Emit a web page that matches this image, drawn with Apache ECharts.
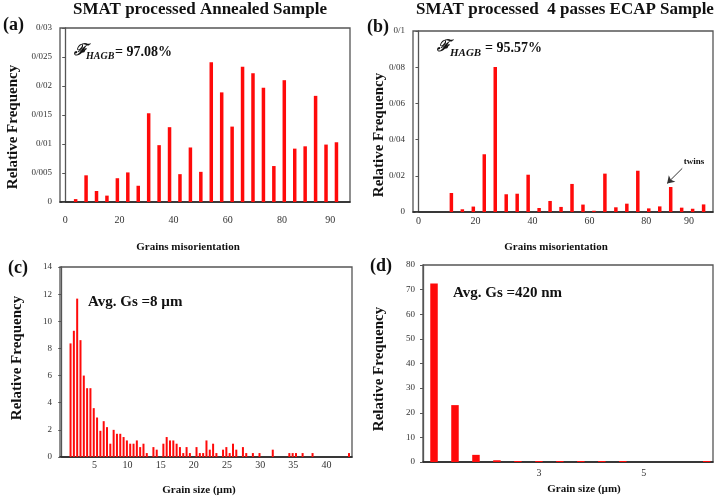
<!DOCTYPE html>
<html><head><meta charset="utf-8">
<script src="https://cdn.jsdelivr.net/npm/echarts@6/dist/echarts.min.js"></script>
<style>html,body{margin:0;padding:0;background:#fff}#c{width:722px;height:498px}</style>
</head><body><div id="c"></div>
<script>
// ---- data ----
const titles = ['SMAT processed Annealed Sample', 'SMAT processed  4 passes ECAP Sample'];
const panelTags = ['(a)', '(b)', '(c)', '(d)'];
const hagb = ['= 97.08%', '= 95.57%'];
const avgGs = ['Avg. Gs =8 \u00b5m', 'Avg. Gs =420 nm'];
const xTitles = ['Grains misorientation', 'Grains misorientation', 'Grain size (\u00b5m)', 'Grain size (\u00b5m)'];
const yTitle = 'Relative Frequency';

// (a) misorientation bins (deg) and relative frequency
const misoA = [3.85, 7.7, 11.55, 15.4, 19.25, 23.1, 26.95, 30.8, 34.65, 38.5, 42.35, 46.2, 50.05,
  53.9, 57.75, 61.6, 65.45, 69.3, 73.15, 77, 80.85, 84.7, 88.55, 92.4, 96.25, 100.1];
const freqA = [0.0005, 0.0046, 0.0019, 0.0011, 0.0041, 0.0051, 0.0028, 0.0153, 0.0098, 0.0129, 0.0048, 0.0094, 0.0052,
  0.0241, 0.0189, 0.0130, 0.0233, 0.0222, 0.0197, 0.0062, 0.0210, 0.0092, 0.0096, 0.0183, 0.0099, 0.0103];

// (b)
const misoB = [11.55, 15.4, 19.25, 23.1, 26.95, 30.8, 34.65, 38.5, 42.35, 46.2, 50.05,
  53.9, 57.75, 61.6, 65.45, 69.3, 73.15, 77, 80.85, 84.7, 88.55, 92.4, 96.25, 100.1];
const freqB = [0.0105, 0.0015, 0.0030, 0.0319, 0.0801, 0.0098, 0.0101, 0.0206, 0.0022, 0.0061, 0.0028,
  0.0155, 0.0041, 0.0007, 0.0212, 0.0026, 0.0046, 0.0228, 0.0020, 0.0031, 0.0138, 0.0024, 0.0018, 0.0042];
const twinsFrom = [92.6, 0.0241];
const twinsTo = [87.3, 0.0158];

// (c) grain size (um) and relative frequency
const sizeC = [1.4, 1.9, 2.4, 2.9, 3.4, 3.9, 4.4, 4.9, 5.4, 5.9, 6.4, 6.9, 7.4, 7.9, 8.4, 8.9, 9.4, 9.9,
  10.4, 10.9, 11.4, 11.9, 12.4, 12.9, 13.9, 14.4, 15.4, 15.9, 16.4, 16.9, 17.4, 17.9, 18.4, 18.9, 19.4,
  20.4, 20.9, 21.4, 21.9, 22.4, 22.9, 23.4, 24.4, 24.9, 25.4, 25.9, 26.4, 27.4, 27.9, 28.9, 29.9,
  31.9, 34.4, 34.9, 35.4, 36.4, 37.9, 43.4];
const freqC = [8.37, 9.3, 11.67, 8.61, 6.0, 5.07, 5.07, 3.6, 2.91, 1.93, 2.64, 2.2, 0.98, 2.0, 1.71, 1.71, 1.47, 1.22,
  0.98, 0.98, 1.22, 0.73, 0.98, 0.29, 0.73, 0.54, 0.98, 1.47, 1.22, 1.22, 0.98, 0.73, 0.29, 0.73, 0.29,
  0.73, 0.29, 0.29, 1.22, 0.54, 0.98, 0.29, 0.54, 0.73, 0.29, 0.98, 0.54, 0.73, 0.29, 0.29, 0.29,
  0.54, 0.29, 0.29, 0.29, 0.29, 0.29, 0.29];

// (d)
const sizeD = [1.0, 1.4, 1.8, 2.2, 2.6, 3.0, 3.4, 3.8, 4.2, 4.6, 6.2];
const freqD = [72.5, 23.1, 2.9, 0.7, 0.4, 0.4, 0.4, 0.4, 0.4, 0.4, 0.4];

// tick labels
const yTickA = ['0', '0/005', '0/01', '0/015', '0/02', '0/025', '0/03'];
const yTickB = ['0', '0/02', '0/04', '0/06', '0/08', '0/1'];
const misoTickA = [0, 20, 40, 60, 80, 97.8];
const misoTickB = [0, 20, 40, 60, 80, 95];
const misoTickText = ['0', '20', '40', '60', '80', '90'];
const sizeTickC = [5, 10, 15, 20, 25, 30, 35, 40];
const sizeTickD = [3, 5];

// ---- chart ----
const SERIF = '"Liberation Serif", "Times New Roman", serif';
const RED = '#ff0a0a';
const grids = [
  {left: 60, top: 28, width: 290, height: 174},
  {left: 413, top: 31, width: 300, height: 181},
  {left: 60, top: 267, width: 292, height: 190},
  {left: 423, top: 265, width: 290, height: 197}
].map(g => Object.assign(g, {show: true, borderColor: '#555', borderWidth: 1.3, containLabel: false}));

function xAx(i, min, max, ticks, fmt, margin) {
  return {
    type: 'value', gridIndex: i, min: min, max: max,
    splitLine: {show: false}, axisTick: {show: false},
    axisLine: {show: true, lineStyle: {color: '#222', width: 1.5}},
    axisLabel: {customValues: ticks, formatter: fmt, margin: margin,
      fontFamily: SERIF, fontSize: 10, color: '#333'}
  };
}
function yAx(i, max, interval, fmt) {
  return {
    type: 'value', gridIndex: i, min: 0, max: max, interval: interval,
    splitLine: {show: false},
    axisTick: {show: true, length: 3, lineStyle: {color: '#555'}},
    axisLine: {show: true, lineStyle: {color: '#555', width: 1.3}},
    axisLabel: {formatter: fmt, margin: 8, fontFamily: SERIF, fontSize: 9, color: '#333'}
  };
}
const zip = (xs, ys) => xs.map((x, i) => [x, ys[i]]);

const txt = (x, y, text, font, extra) => Object.assign({
  type: 'text', x: x, y: y, silent: true,
  style: Object.assign({text: text, font: font, fill: '#111', align: 'center', verticalAlign: 'middle'}, extra || {})
});

const option = {
  animation: false,
  backgroundColor: '#fff',
  grid: grids,
  xAxis: [
    xAx(0, -1.925, 105.1, misoTickA, v => misoTickText[misoTickA.indexOf(v)], 13),
    xAx(1, -1.925, 103.4, misoTickB, v => misoTickText[misoTickB.indexOf(v)], 4),
    xAx(2, -0.19, 43.85, sizeTickC, v => String(v), 3),
    xAx(3, 0.79, 6.32, sizeTickD, v => String(v), 6)
  ],
  yAxis: [
    yAx(0, 0.03, 0.005, v => yTickA[Math.round(v / 0.005)]),
    yAx(1, 0.1, 0.02, v => yTickB[Math.round(v / 0.02)]),
    yAx(2, 14, 2, v => String(v)),
    yAx(3, 80, 10, v => String(v))
  ],
  series: [
    {type: 'bar', xAxisIndex: 0, yAxisIndex: 0, data: zip(misoA, freqA), barWidth: 3.5, itemStyle: {color: RED}},
    {type: 'bar', xAxisIndex: 1, yAxisIndex: 1, data: zip(misoB, freqB), barWidth: 3.5, itemStyle: {color: RED},
      markLine: {silent: true, symbol: ['none', 'arrow'], symbolSize: 7, label: {show: false},
        lineStyle: {color: '#333', width: 1, type: 'solid'},
        data: [[{coord: twinsFrom}, {coord: twinsTo}]]}},
    {type: 'bar', xAxisIndex: 2, yAxisIndex: 2, data: zip(sizeC, freqC), barWidth: 2, itemStyle: {color: RED}},
    {type: 'bar', xAxisIndex: 3, yAxisIndex: 3, data: zip(sizeD, freqD), barWidth: 7.5, itemStyle: {color: RED}}
  ],
  graphic: [
    txt(200, 10, titles[0], 'bold 17px ' + SERIF),
    txt(565, 10, titles[1], 'bold 17px ' + SERIF),
    txt(3, 25, panelTags[0], 'bold 18px ' + SERIF, {align: 'left'}),
    txt(367, 27, panelTags[1], 'bold 18px ' + SERIF, {align: 'left'}),
    txt(8, 268, panelTags[2], 'bold 18px ' + SERIF, {align: 'left'}),
    txt(370, 266, panelTags[3], 'bold 18px ' + SERIF, {align: 'left'}),
    // F_HAGB annotations
    txt(74, 51, '\u2131', 'italic bold 16px "DejaVu Serif", serif', {align: 'left'}),
    txt(86, 56, 'HAGB', 'italic bold 10px ' + SERIF, {align: 'left'}),
    txt(115, 52, hagb[0], 'bold 14px ' + SERIF, {align: 'left'}),
    txt(437, 47, '\u2131', 'italic bold 16px "DejaVu Serif", serif', {align: 'left'}),
    txt(450, 53, 'HAGB', 'italic bold 11px ' + SERIF, {align: 'left'}),
    txt(485, 48, hagb[1], 'bold 14px ' + SERIF, {align: 'left'}),
    txt(694, 162, 'twins', 'bold 9px ' + SERIF),
    txt(88, 302, avgGs[0], 'bold 15px ' + SERIF, {align: 'left'}),
    txt(453, 293, avgGs[1], 'bold 15px ' + SERIF, {align: 'left'}),
    // axis titles
    txt(188, 247, xTitles[0], 'bold 11px ' + SERIF),
    txt(556, 247, xTitles[1], 'bold 11px ' + SERIF),
    txt(199, 490, xTitles[2], 'bold 11px ' + SERIF),
    txt(584, 489, xTitles[3], 'bold 11px ' + SERIF),
    Object.assign(txt(13, 127, yTitle, 'bold 15px ' + SERIF), {rotation: Math.PI / 2}),
    Object.assign(txt(379, 135, yTitle, 'bold 15px ' + SERIF), {rotation: Math.PI / 2}),
    Object.assign(txt(17, 358, yTitle, 'bold 15px ' + SERIF), {rotation: Math.PI / 2}),
    Object.assign(txt(379, 369, yTitle, 'bold 15px ' + SERIF), {rotation: Math.PI / 2})
  ]
};
const chart = echarts.init(document.getElementById('c'), null, {renderer: 'canvas'});
chart.setOption(option);
</script>
</body></html>
